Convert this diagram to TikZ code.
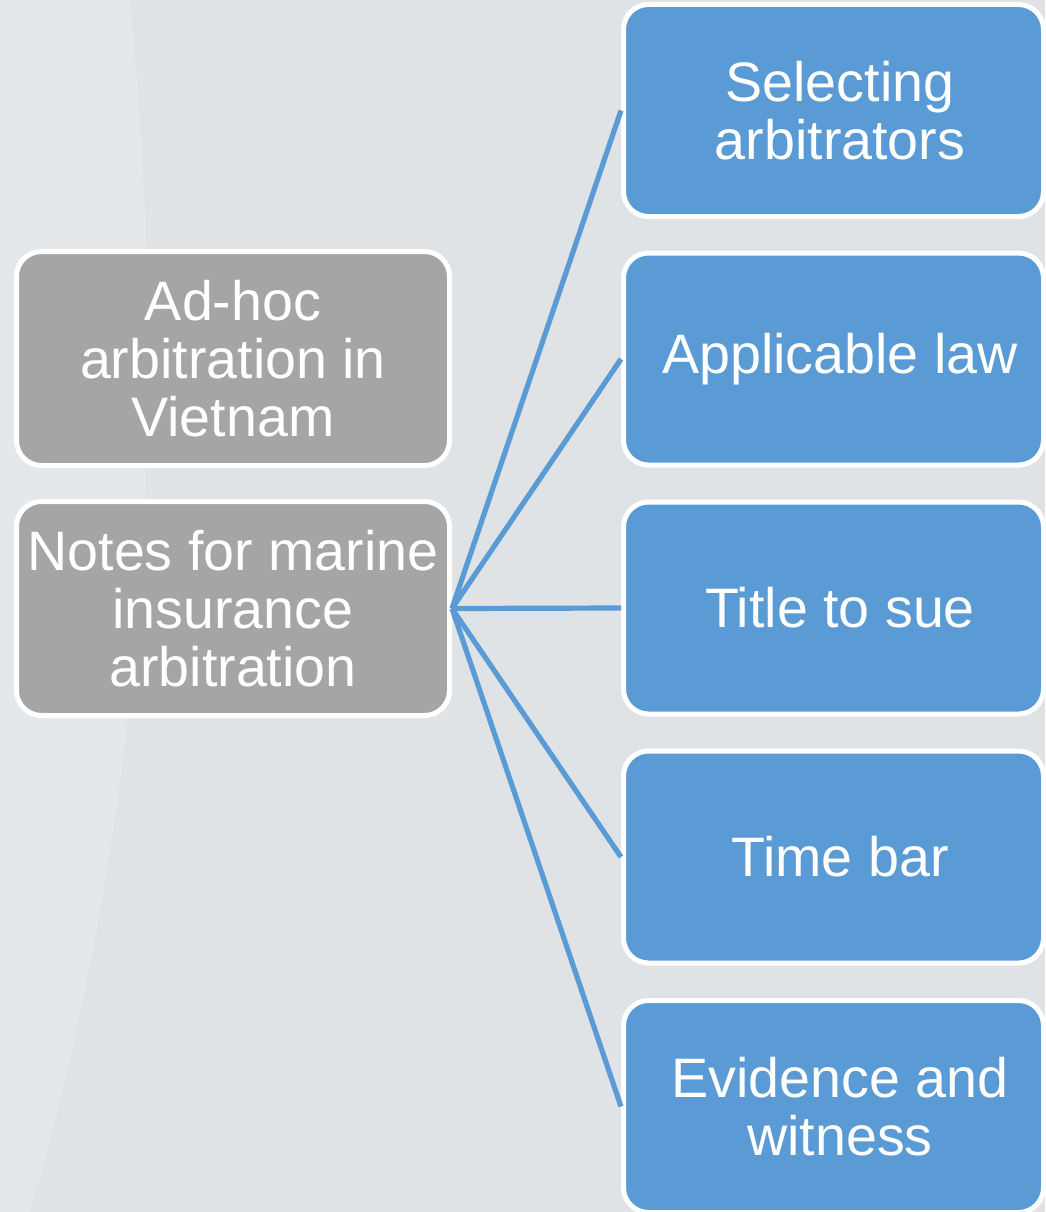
\documentclass[tikz,border=0pt]{standalone}
\usepackage{fontspec}
\setmainfont{Liberation Sans}
\definecolor{bgcol}{HTML}{DFE3E6}
\definecolor{bglight}{HTML}{E4E8EB}
\definecolor{graybox}{HTML}{A5A5A5}
\definecolor{bluebox}{HTML}{5B9BD5}
\tikzset{
  boxtext/.style={text=white, align=center, inner sep=0pt,
    font=\fontsize{55.6pt}{58pt}\selectfont},
  basebox/.style={boxtext, draw=white, line width=5pt, rounded corners=25pt},
  graynode/.style={basebox, fill=graybox, minimum width=433pt, minimum height=214pt},
  bluenode/.style={basebox, fill=bluebox, minimum width=420pt, minimum height=212pt},
  bluelabel/.style={boxtext, xshift=6.5pt},
  connector/.style={draw=bluebox, line width=5.2pt}
}
\begin{document}
\begin{tikzpicture}[x=1pt,y=-1pt]
  \fill[bgcol] (0,0) rectangle (1045,1212);
  \useasboundingbox (0,0) rectangle (1045,1212);
  \fill[bglight] (0,0) -- (130,0) .. controls (168,380) and (150,800) .. (30,1212) -- (0,1212) -- cycle;

  \node[graynode] (adhoc) at (233,358.5) {Ad-hoc\\arbitration in\\Vietnam};
  \node[graynode] (notes) at (233,608.5) {Notes for marine\\insurance\\arbitration};

  \node[bluenode, label={[bluelabel]center:{Selecting\\arbitrators}}] (b1) at (833.5,110.5) {};
  \node[bluenode, label={[bluelabel]center:{Applicable law}}] (b2) at (833.5,359) {};
  \node[bluenode, label={[bluelabel]center:{Title to sue}}] (b3) at (833.5,608) {};
  \node[bluenode, label={[bluelabel]center:{Time bar}}] (b4) at (833.5,857) {};
  \node[bluenode, label={[bluelabel]center:{Evidence and\\witness}}] (b5) at (833.5,1106.5) {};

  \foreach \b in {b1,b2,b3,b4,b5}
    \draw[connector] (notes.east) -- (\b.west);
\end{tikzpicture}
\end{document}
